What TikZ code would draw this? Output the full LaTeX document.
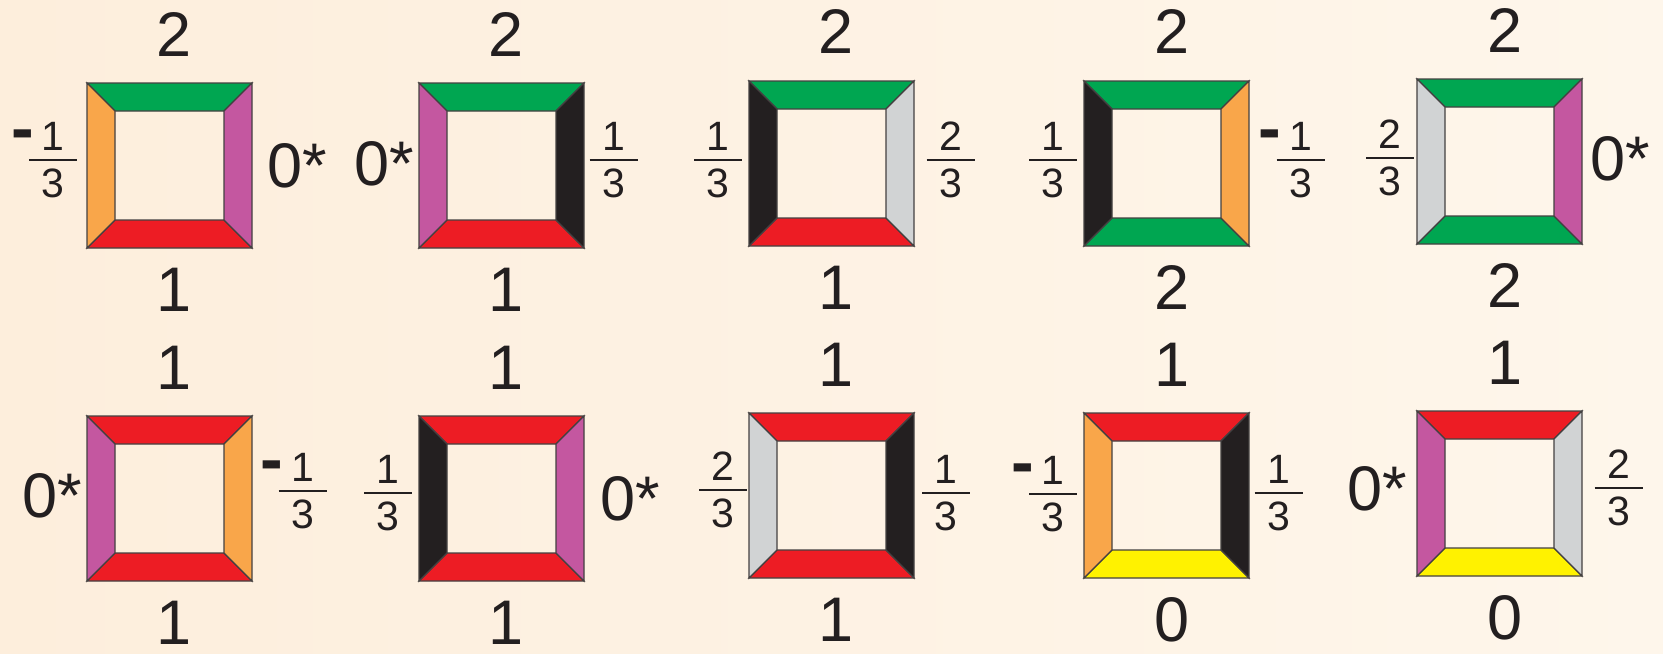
\documentclass[tikz,border=0pt]{standalone}
\usepackage{fontspec}
\setmainfont{Liberation Sans}
\definecolor{cgreen}{HTML}{00A651}
\definecolor{cred}{HTML}{ED1C24}
\definecolor{corange}{HTML}{F9A64A}
\definecolor{cmag}{HTML}{C457A0}
\definecolor{cblack}{HTML}{231F20}
\definecolor{cgray}{HTML}{D1D3D4}
\definecolor{cyellow}{HTML}{FFF200}
\definecolor{bgA}{HTML}{FDEEDC}
\definecolor{bgB}{HTML}{FEF6EB}
\definecolor{ink}{HTML}{231F20}
\tikzset{
  edge/.style={draw=ink!85,line width=0.6pt,line join=miter},
  big/.style={inner sep=0pt,text=ink,font=\fontsize{31.5pt}{36pt}\selectfont},
  fr/.style={inner sep=0pt,text=ink,font=\fontsize{20.5pt}{24pt}\selectfont},
  minustxt/.style={inner sep=0pt,text=ink,font=\fontsize{34pt}{40pt}\selectfont\bfseries},
  barline/.style={draw=ink,line width=1pt}
}
% name, x0, y0, top, right, bottom, left, toptext, bottomtext
\newcommand\frametile[9]{%
  \begin{scope}[shift={(#2,#3)}]
    \draw[edge,fill=#4] (0,0) -- (165,0) -- (137,28) -- (28,28) -- cycle;
    \draw[edge,fill=#6] (0,165) -- (165,165) -- (137,137) -- (28,137) -- cycle;
    \draw[edge,fill=#7] (0,0) -- (28,28) -- (28,137) -- (0,165) -- cycle;
    \draw[edge,fill=#5] (165,0) -- (137,28) -- (137,137) -- (165,165) -- cycle;
    \node[big,anchor=base] (#1t) at (87.5,-27) {#8};
    \node[big,anchor=base] (#1b) at (87.5,228) {#9};
  \end{scope}}
% name, x, y (bar centre), num, den
\newcommand\fracnode[5]{%
  \node[fr,anchor=base] (#1n) at (#2,#3-10) {#4};
  \node[fr,anchor=base] (#1d) at (#2,#3+37) {#5};
  \draw[barline] (#2-24,#3) -- (#2+24,#3);}
\newcommand\negfracnode[5]{%
  \fracnode{#1}{#2}{#3}{#4}{#5}%
  \node[minustxt,anchor=base] (#1m) at (#2-30.5,#3-9) {-};}
\begin{document}
\begin{tikzpicture}[x=0.5pt,y=-0.5pt]
  \useasboundingbox (0,0) rectangle (1663,653);
  \shade[left color=bgA,right color=bgB] (0,0) rectangle (1663,653);
  % row 1
  \frametile{a1}{87}{83}{cgreen}{cmag}{cred}{corange}{2}{1}
  \frametile{a2}{419}{83}{cgreen}{cblack}{cred}{cmag}{2}{1}
  \frametile{a3}{749}{81}{cgreen}{cgray}{cred}{cblack}{2}{1}
  \frametile{a4}{1084}{81}{cgreen}{corange}{cgreen}{cblack}{2}{2}
  \frametile{a5}{1417}{79}{cgreen}{cmag}{cgreen}{cgray}{2}{2}
  % row 2
  \frametile{b1}{87}{416}{cred}{corange}{cred}{cmag}{1}{1}
  \frametile{b2}{419}{416}{cred}{cmag}{cred}{cblack}{1}{1}
  \frametile{b3}{749}{413}{cred}{cblack}{cred}{cgray}{1}{1}
  \frametile{b4}{1084}{413}{cred}{cblack}{cyellow}{corange}{1}{0}
  \frametile{b5}{1417}{411}{cred}{cgray}{cyellow}{cmag}{1}{0}
  % 0* labels
  \node[big,anchor=base west] (a1r) at (267.5,187) {0*};
  \node[big,anchor=base east] (a2l) at (414.5,185) {0*};
  \node[big,anchor=base west] (a5r) at (1590.5,180) {0*};
  \node[big,anchor=base east] (b1l) at (82.5,517) {0*};
  \node[big,anchor=base west] (b2r) at (600.5,520) {0*};
  \node[big,anchor=base east] (b5l) at (1407.5,510) {0*};
  % fractions
  \negfracnode{a1l}{53}{160}{1}{3}
  \fracnode{a2r}{613.5}{160}{1}{3}
  \fracnode{a3l}{718}{160}{1}{3}
  \fracnode{a3r}{950.5}{160}{2}{3}
  \fracnode{a4l}{1053}{160}{1}{3}
  \negfracnode{a4r}{1300.5}{160}{1}{3}
  \fracnode{a5l}{1390}{158}{2}{3}
  \negfracnode{b1r}{302.5}{491}{1}{3}
  \fracnode{b2l}{388}{493}{1}{3}
  \fracnode{b3l}{723}{490}{2}{3}
  \fracnode{b3r}{946}{493}{1}{3}
  \negfracnode{b4l}{1053}{494}{1}{3}
  \fracnode{b4r}{1278.5}{493}{1}{3}
  \fracnode{b5r}{1618.5}{488}{2}{3}
\end{tikzpicture}
\end{document}
